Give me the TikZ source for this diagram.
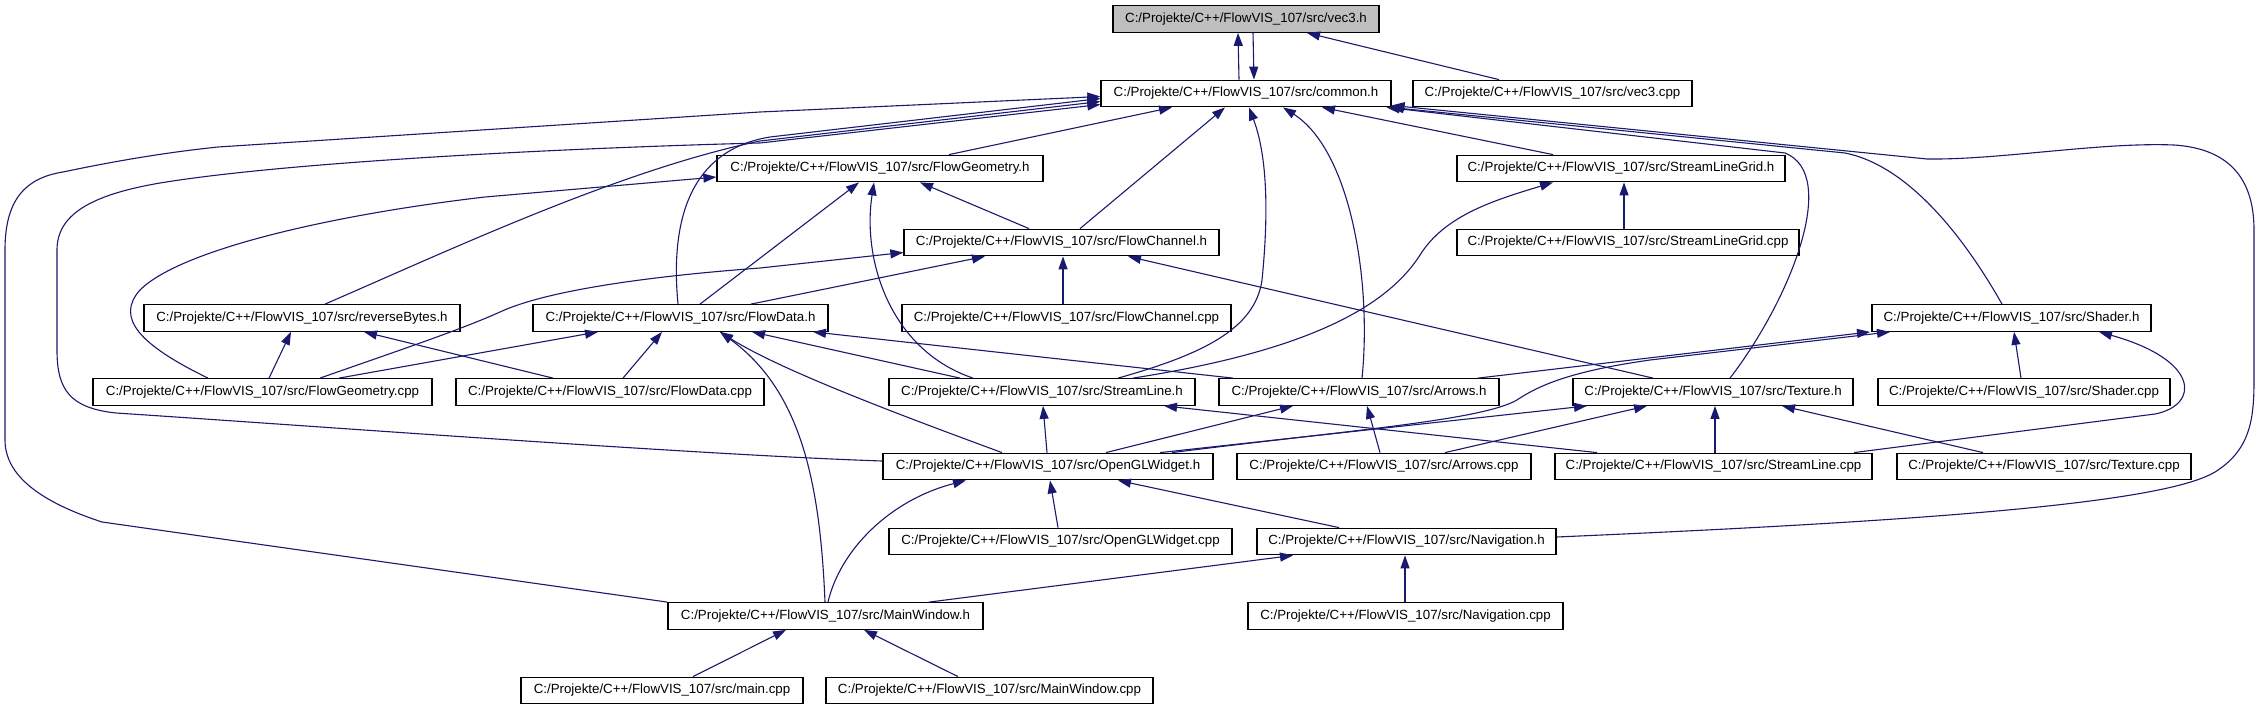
\documentclass[tikz,border=0pt]{standalone}
\usepackage{fontspec}
\setmainfont{Liberation Sans}
\usetikzlibrary{arrows.meta}
\definecolor{edgecol}{RGB}{25,25,112}
\definecolor{rootfill}{RGB}{191,191,191}
\begin{document}
\begin{tikzpicture}[x=1pt,y=-1pt,
  box/.style={draw=black,line width=1.3pt,minimum height=26.5pt,inner sep=0pt,font=\fontsize{13.3}{16}\selectfont},
  edge/.style={draw=edgecol,line width=1.1pt,-{Triangle[length=13pt,width=9pt]}}]
\fill[white] (0,0) rectangle (2266,709);
\useasboundingbox (0,0) rectangle (2266,709);
% nodes
\node[box,fill=rootfill,minimum width=266pt] (vec3h) at (1246,19) {C:/Projekte/C++/FlowVIS\_107/src/vec3.h};
\node[box,minimum width=290pt] (common) at (1246,93.5) {C:/Projekte/C++/FlowVIS\_107/src/common.h};
\node[box,minimum width=279pt] (vec3cpp) at (1552.5,93.5) {C:/Projekte/C++/FlowVIS\_107/src/vec3.cpp};
\node[box,minimum width=326pt] (flowgeomh) at (880,168.5) {C:/Projekte/C++/FlowVIS\_107/src/FlowGeometry.h};
\node[box,minimum width=328pt] (slgridh) at (1621,168.5) {C:/Projekte/C++/FlowVIS\_107/src/StreamLineGrid.h};
\node[box,minimum width=315pt] (flowchanh) at (1061.5,242.5) {C:/Projekte/C++/FlowVIS\_107/src/FlowChannel.h};
\node[box,minimum width=342pt] (slgridcpp) at (1628,242.5) {C:/Projekte/C++/FlowVIS\_107/src/StreamLineGrid.cpp};
\node[box,minimum width=316pt] (revbytes) at (302,318) {C:/Projekte/C++/FlowVIS\_107/src/reverseBytes.h};
\node[box,minimum width=295pt] (flowdatah) at (680.5,318) {C:/Projekte/C++/FlowVIS\_107/src/FlowData.h};
\node[box,minimum width=329pt] (flowchancpp) at (1066.5,318) {C:/Projekte/C++/FlowVIS\_107/src/FlowChannel.cpp};
\node[box,minimum width=279pt] (shaderh) at (2011.5,318) {C:/Projekte/C++/FlowVIS\_107/src/Shader.h};
\node[box,minimum width=339pt] (flowgeomcpp) at (262.5,392) {C:/Projekte/C++/FlowVIS\_107/src/FlowGeometry.cpp};
\node[box,minimum width=308pt] (flowdatacpp) at (610,392) {C:/Projekte/C++/FlowVIS\_107/src/FlowData.cpp};
\node[box,minimum width=306pt] (streamlineh) at (1042,392) {C:/Projekte/C++/FlowVIS\_107/src/StreamLine.h};
\node[box,minimum width=280pt] (arrowsh) at (1359,392) {C:/Projekte/C++/FlowVIS\_107/src/Arrows.h};
\node[box,minimum width=280pt] (textureh) at (1713,392) {C:/Projekte/C++/FlowVIS\_107/src/Texture.h};
\node[box,minimum width=292pt] (shadercpp) at (2024,392) {C:/Projekte/C++/FlowVIS\_107/src/Shader.cpp};
\node[box,minimum width=330pt] (openglh) at (1048,466.5) {C:/Projekte/C++/FlowVIS\_107/src/OpenGLWidget.h};
\node[box,minimum width=294pt] (arrowscpp) at (1384,466.5) {C:/Projekte/C++/FlowVIS\_107/src/Arrows.cpp};
\node[box,minimum width=317pt] (streamlinecpp) at (1713.5,466.5) {C:/Projekte/C++/FlowVIS\_107/src/StreamLine.cpp};
\node[box,minimum width=294pt] (texturecpp) at (2044,466.5) {C:/Projekte/C++/FlowVIS\_107/src/Texture.cpp};
\node[box,minimum width=343pt] (openglcpp) at (1060.5,541.5) {C:/Projekte/C++/FlowVIS\_107/src/OpenGLWidget.cpp};
\node[box,minimum width=299pt] (navh) at (1406.5,541.5) {C:/Projekte/C++/FlowVIS\_107/src/Navigation.h};
\node[box,minimum width=315pt] (mainwinh) at (825.5,616) {C:/Projekte/C++/FlowVIS\_107/src/MainWindow.h};
\node[box,minimum width=315pt] (navcpp) at (1405.5,616) {C:/Projekte/C++/FlowVIS\_107/src/Navigation.cpp};
\node[box,minimum width=282pt] (maincpp) at (662,690.5) {C:/Projekte/C++/FlowVIS\_107/src/main.cpp};
\node[box,minimum width=327pt] (mainwincpp) at (989.5,690.5) {C:/Projekte/C++/FlowVIS\_107/src/MainWindow.cpp};
% edges
\draw[edge] ([xshift=-7pt]common.north) -- ([xshift=-8pt]vec3h.south);
\draw[edge] ([xshift=7pt]vec3h.south) -- ([xshift=8pt]common.north);
\draw[edge] ([xshift=-53.5pt]vec3cpp.north) -- ([xshift=61pt]vec3h.south);
\draw[edge] ([xshift=69pt]flowgeomh.north) -- ([xshift=-74pt]common.south);
\draw[edge] ([xshift=18.5pt]flowchanh.north) -- ([xshift=-21pt]common.south);
\draw[edge] ([xshift=76pt]streamlineh.north) .. controls (1200,355) and (1255,330) .. (1262,280) .. controls (1270,200) and (1265,150) .. ([xshift=3pt]common.south);
\draw[edge] ([xshift=3pt]arrowsh.north) .. controls (1372,280) and (1350,150) .. ([xshift=37pt]common.south);
\draw[edge] ([xshift=-68pt]slgridh.north) -- ([xshift=76pt]common.south);
\draw[edge] ([xshift=17pt]textureh.north) .. controls (1790,300) and (1840,175) .. (1785,153) -- ([xshift=-5pt]common.south east);
\draw[edge] ([xshift=-9.5pt]shaderh.north) .. controls (1960,230) and (1905,165) .. (1845,153) -- ([xshift=-1pt]common.south east);
\draw[edge] ([yshift=4.5pt]navh.east) .. controls (1900,522) and (2160,505) .. (2215,472) .. controls (2250,450) and (2254,420) .. (2254,380) -- (2254,230) .. controls (2254,170) and (2220,148) .. (2174,145) .. controls (2100,142) and (2000,160) .. (1927,159) -- ([yshift=2pt]common.south east);
\draw[edge] ([xshift=23pt]revbytes.north) .. controls (450,250) and (620,170) .. (760,141) -- ([yshift=-8pt]common.west);
\draw[edge] ([xshift=-2.5pt]flowdatah.north) .. controls (670,220) and (690,150) .. (770,137) -- ([yshift=-5pt]common.west);
\draw[edge] ([yshift=5.5pt]openglh.west) .. controls (700,455) and (300,425) .. (116,413) .. controls (70,408) and (57,390) .. (57,350) -- (57,250) .. controls (57,215) and (90,195) .. (160,183) .. controls (300,160) and (600,147) .. (760,143) -- ([yshift=-11pt]common.west);
\draw[edge] (mainwinh.north west) -- (102,522) .. controls (50,505) and (5,480) .. (5,440) -- (5,250) .. controls (5,200) and (25,178) .. (63,172) .. controls (120,160) and (170,152) .. (218,147) -- (760,112) -- ([yshift=-3pt]common.west);
\draw[edge] ([xshift=-54.5pt]flowgeomcpp.north) .. controls (140,345) and (115,318) .. (140,290) .. controls (180,250) and (330,215) .. (485,197) -- ([yshift=-8.5pt]flowgeomh.west);
\draw[edge] ([xshift=57.5pt]flowgeomcpp.north) .. controls (400,350) and (460,330) .. (500,312) .. controls (530,298) and (600,280) .. (760,268) -- ([yshift=-10pt]flowchanh.west);
\draw[edge] ([xshift=76.5pt]flowgeomcpp.north) -- ([xshift=-82.5pt]flowdatah.south);
\draw[edge] ([xshift=6.5pt]flowgeomcpp.north) -- ([xshift=-11pt]revbytes.south);
\draw[edge] ([xshift=-57pt]flowdatacpp.north) -- ([xshift=62pt]revbytes.south);
\draw[edge] ([xshift=13pt]flowdatacpp.north) -- ([xshift=-18.5pt]flowdatah.south);
\draw[edge] ([xshift=19.5pt]flowdatah.north) -- ([xshift=-21pt]flowgeomh.south);
\draw[edge] ([xshift=70.5pt]flowdatah.north) -- ([xshift=-76.5pt]flowchanh.south);
\draw[edge] ([xshift=-69pt]streamlineh.north) .. controls (890,350) and (862,260) .. ([xshift=-6pt]flowgeomh.south);
\draw[edge] ([xshift=-82pt]streamlineh.north) -- ([xshift=71.5pt]flowdatah.south);
\draw[edge] ([xshift=-32.5pt]flowchanh.north) -- ([xshift=40pt]flowgeomh.south);
\draw[edge] ([xshift=-3.5pt]flowchancpp.north) -- ([xshift=1.5pt]flowchanh.south);
\draw[edge] ([xshift=91pt]streamlineh.north) .. controls (1300,352) and (1385,310) .. (1420,255) .. controls (1445,215) and (1495,200) .. ([xshift=-68pt]slgridh.south);
\draw[edge] ([xshift=-4pt]slgridcpp.north) -- ([xshift=3pt]slgridh.south);
\draw[edge] ([xshift=-60pt]textureh.north) -- ([xshift=66.5pt]flowchanh.south);
\draw[edge] ([xshift=-1pt]openglh.north) -- ([xshift=1pt]streamlineh.south);
\draw[edge] ([xshift=-116.5pt]streamlinecpp.north) -- ([xshift=122pt]streamlineh.south);
\draw[edge] ([xshift=-126pt]arrowsh.north) -- ([xshift=132.5pt]flowdatah.south);
\draw[edge] ([xshift=119pt]arrowsh.north) -- ([xshift=-141.5pt]shaderh.south);
\draw[edge] ([xshift=58pt]openglh.north) -- ([xshift=-66pt]arrowsh.south);
\draw[edge] ([xshift=-4pt]arrowscpp.north) -- ([xshift=8pt]arrowsh.south);
\draw[edge] ([xshift=112pt]openglh.north) -- ([xshift=-126pt]textureh.south);
\draw[edge] ([xshift=124pt]openglh.north) .. controls (1350,430) and (1490,420) .. (1520,398) .. controls (1545,382) and (1580,370) .. (1650,360) -- ([xshift=-121.5pt]shaderh.south);
\draw[edge] ([xshift=61pt]arrowscpp.north) -- ([xshift=-66pt]textureh.south);
\draw[edge] ([xshift=1.5pt]streamlinecpp.north) -- ([xshift=2pt]textureh.south);
\draw[edge] ([xshift=-61pt]texturecpp.north) -- ([xshift=69pt]textureh.south);
\draw[edge] ([xshift=-3pt]shadercpp.north) -- ([xshift=2.5pt]shaderh.south);
\draw[edge] ([xshift=140.5pt]streamlinecpp.north) -- (2155,414) .. controls (2200,405) and (2200,360) .. ([xshift=87.5pt]shaderh.south);
\draw[edge] ([xshift=-2.5pt]openglcpp.north) -- ([xshift=2pt]openglh.south);
\draw[edge] ([xshift=2.5pt]mainwinh.north) .. controls (840,550) and (890,500) .. ([xshift=-82pt]openglh.south);
\draw[edge] ([xshift=-67.5pt]navh.north) -- ([xshift=70pt]openglh.south);
\draw[edge] ([xshift=-0.5pt]mainwinh.north) .. controls (820,480) and (800,390) .. ([xshift=39.5pt]flowdatah.south);
\draw[edge] ([xshift=-46pt]openglh.north) .. controls (900,415) and (780,370) .. ([xshift=39.5pt]flowdatah.south);
\draw[edge] ([xshift=103.5pt]mainwinh.north) -- ([xshift=-113.5pt]navh.south);
\draw[edge] ([xshift=-0.5pt]navcpp.north) -- ([xshift=-1.5pt]navh.south);
\draw[edge] ([xshift=31pt]maincpp.north) -- ([xshift=-39.5pt]mainwinh.south);
\draw[edge] ([xshift=-31.5pt]mainwincpp.north) -- ([xshift=38.5pt]mainwinh.south);
\end{tikzpicture}
\end{document}
